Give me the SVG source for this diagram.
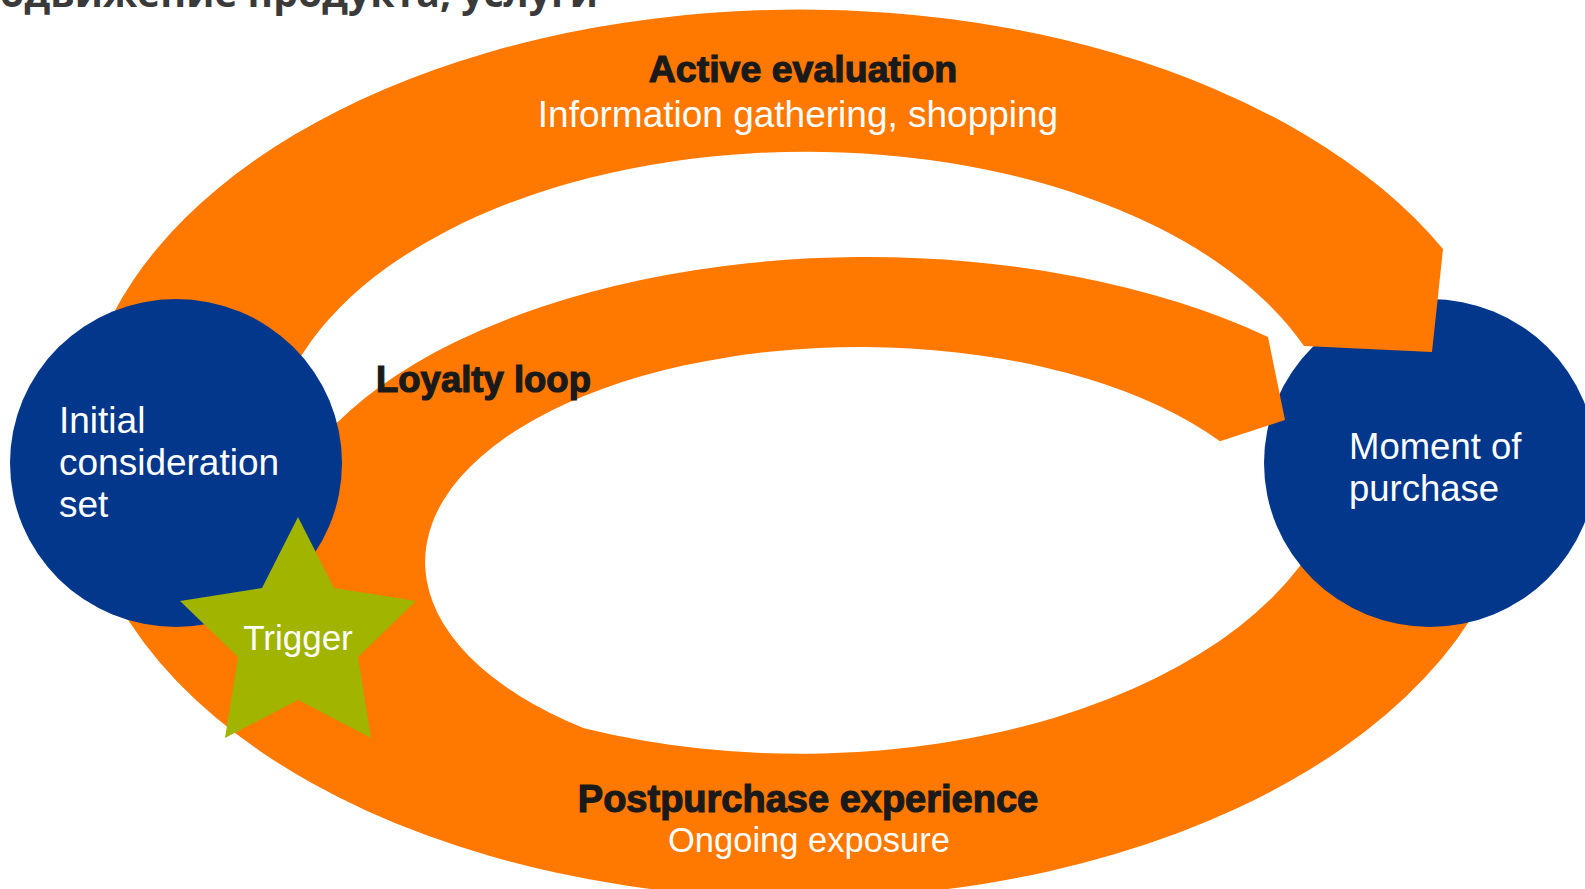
<svg xmlns="http://www.w3.org/2000/svg" width="1585" height="889" viewBox="0 0 1585 889">
  <style>
    .band { fill: #FF7800; }
    .node { fill: #02378C; }
    .star { fill: #A0B400; }
    .t { font-family: "Liberation Sans", Arial, sans-serif; }
    .w { fill: #FFFFFF; }
    .hd { fill: #1A1A1A; font-weight: bold; stroke: #1A1A1A; stroke-width: 1.2; }
    .cut { font-family: "Open Sans", "DejaVu Sans", sans-serif; font-weight: 700; fill: #3A3A3A; }
  </style>
  <rect width="1585" height="889" fill="#FFFFFF"/>
  <text class="cut" x="-54" y="7" font-size="40" textLength="652" lengthAdjust="spacingAndGlyphs">Продвижение продукта, услуги</text>

  <g id="connectors">
    <path id="postpurchase-band" class="band" d="M81,430 A720,437 0 1 0 1519,470 L1335.5,500 A545,312 0 0 1 584,728.2 L520,742 L400,700 L290,500 Z"/>
  </g>

  <g id="moment-of-purchase">
    <ellipse class="node" cx="1430" cy="463" rx="166" ry="164"/>
    <text class="t w" x="1349" y="459" font-size="36.5">Moment of</text>
    <text class="t w" x="1349" y="501" font-size="36.5">purchase</text>
  </g>

  <g id="connectors-upper">
    <path id="active-evaluation-band" class="band" d="M81,420 A720,435 0 0 1 1443,249 L1432,352 L1304,346 A536,308 0 0 0 280,400 Z"/>
    <path id="loyalty-loop-band" class="band" d="M584,728.2 A435,215 0 1 1 1220,441.3 L1285,420 L1268,337 A600,312 0 0 0 400,765 L560,770 Z"/>
  </g>

  <g id="initial-consideration-set">
    <ellipse class="node" cx="176" cy="463" rx="166" ry="164"/>
    <text class="t w" x="59" y="433" font-size="37">Initial</text>
    <text class="t w" x="59" y="475" font-size="37">consideration</text>
    <text class="t w" x="59" y="517" font-size="37">set</text>
  </g>

  <g id="trigger">
    <polygon class="star" points="298,517 334,588 416,601 358,657 371,738 298,700 225,738 238,657 180,601 262,588"/>
    <text class="t w" x="298" y="650" font-size="35" text-anchor="middle">Trigger</text>
  </g>

  <g id="labels">
    <text class="t hd" x="803" y="82" font-size="37.5" text-anchor="middle">Active evaluation</text>
    <text class="t w" x="798" y="127" font-size="37" text-anchor="middle">Information gathering, shopping</text>
    <text class="t hd" x="376" y="392" font-size="36.5">Loyalty loop</text>
    <text class="t hd" x="808" y="812" font-size="38" text-anchor="middle">Postpurchase experience</text>
    <text class="t w" x="809" y="852" font-size="34.5" text-anchor="middle">Ongoing exposure</text>
  </g>
</svg>
